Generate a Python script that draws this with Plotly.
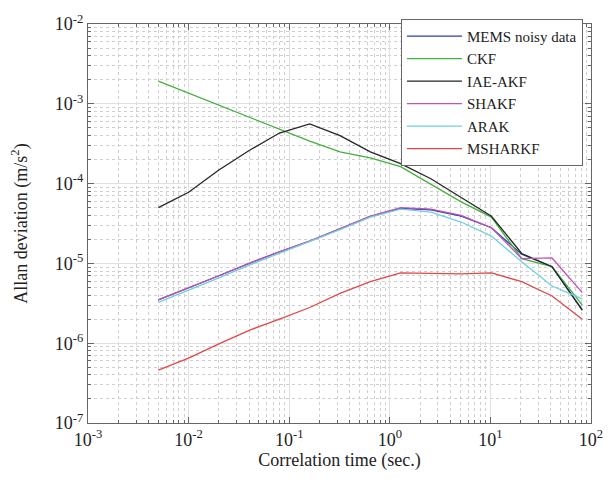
import plotly.graph_objects as go

tau = [0.005, 0.01, 0.02, 0.04, 0.08, 0.16, 0.32, 0.64, 1.28, 2.56, 5.12, 10.24, 20.48, 40.96, 81.92]

mems = [3.5e-6, 4.9e-6, 7.0e-6, 1.0e-5, 1.4e-5, 1.9e-5, 2.7e-5, 3.85e-5, 4.9e-5, 4.7e-5, 3.9e-5, 2.8e-5, 1.3e-5, 9.1e-6, 2.6e-6]
ckf = [1.92e-3, 1.36e-3, 9.6e-4, 6.8e-4, 4.8e-4, 3.4e-4, 2.5e-4, 2.1e-4, 1.63e-4, 9.7e-5, 5.9e-5, 3.8e-5, 1.15e-5, 9.1e-6, 3.0e-6]
iae = [5.0e-5, 7.8e-5, 1.48e-4, 2.6e-4, 4.3e-4, 5.6e-4, 4.0e-4, 2.5e-4, 1.78e-4, 1.15e-4, 6.7e-5, 3.9e-5, 1.33e-5, 9.1e-6, 2.6e-6]
shakf = [3.5e-6, 4.9e-6, 7.0e-6, 1.0e-5, 1.4e-5, 1.9e-5, 2.75e-5, 3.9e-5, 5.0e-5, 4.8e-5, 4.0e-5, 2.8e-5, 1.15e-5, 1.17e-5, 4.3e-6]
arak = [3.25e-6, 4.6e-6, 6.6e-6, 9.5e-6, 1.33e-5, 1.85e-5, 2.65e-5, 3.8e-5, 4.8e-5, 4.4e-5, 3.3e-5, 2.2e-5, 1.05e-5, 5.2e-6, 3.6e-6]
msharkf = [4.6e-7, 6.5e-7, 9.8e-7, 1.45e-6, 2.0e-6, 2.8e-6, 4.2e-6, 5.9e-6, 7.6e-6, 7.5e-6, 7.4e-6, 7.6e-6, 5.9e-6, 3.9e-6, 2.0e-6]

names = ["MEMS noisy data", "CKF", "IAE-AKF", "SHAKF", "ARAK", "MSHARKF"]
series = [mems, ckf, iae, shakf, arak, msharkf]
colors = ["#2b3fb0", "#44b03c", "#262626", "#c354b4", "#6fd0e0", "#e04848"]

x_exps = [-3, -2, -1, 0, 1, 2]
y_exps = [-7, -6, -5, -4, -3, -2]
x_tickvals = [10.0 ** e for e in x_exps]
x_ticktext = ["10<sup>%d</sup>" % e for e in x_exps]
y_tickvals = [10.0 ** e for e in y_exps]
y_ticktext = ["10<sup>%d</sup>" % e for e in y_exps]

fig = go.Figure()
for n, s, c in zip(names, series, colors):
    fig.add_trace(go.Scatter(x=tau, y=s, name=n, mode="lines",
                             line=dict(color=c, width=1.3)))

font_family = "Liberation Serif, Times New Roman, serif"

axis_common = dict(
    type="log", automargin=False, ticklabeloverflow="allow",
    showline=True, linecolor="#666", linewidth=1.2, mirror="allticks",
    ticks="inside", ticklen=6, tickcolor="#666",
    showgrid=True, gridcolor="#e0e0e0", gridwidth=1,
    minor=dict(dtick="D1", showgrid=True, gridcolor="#cfcfcf", griddash="dot",
               ticks="inside", ticklen=3, tickcolor="#666"),
    zeroline=False,
    tickfont=dict(family=font_family, size=18, color="#222"),
)

fig.update_xaxes(**axis_common, range=[-3, 2], tickvals=x_tickvals, ticktext=x_ticktext,
                 title=dict(text="Correlation time (sec.)", font=dict(family=font_family, size=18, color="#222"), standoff=4))
fig.update_yaxes(**axis_common, range=[-7, -2], tickvals=y_tickvals, ticktext=y_ticktext,
                 title=dict(text="Allan deviation (m/s<sup>2</sup>)", font=dict(family=font_family, size=18, color="#222"), standoff=22))

fig.update_layout(
    width=597, height=463,
    margin=dict(l=80, r=14, t=11, b=48),
    paper_bgcolor="white", plot_bgcolor="white",
    font=dict(family=font_family, color="#222"),
    showlegend=True,
    legend=dict(x=0.984, y=1.013, xanchor="right", yanchor="top",
                bgcolor="white", bordercolor="#666", borderwidth=1,
                font=dict(family=font_family, size=15, color="#222"),
                tracegroupgap=0, itemwidth=55),
)

fig.write_html("out.html")
